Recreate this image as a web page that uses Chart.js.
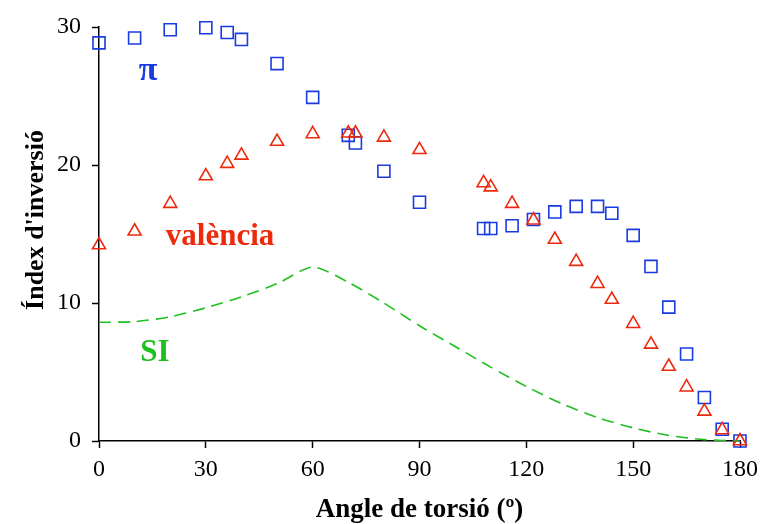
<!DOCTYPE html>
<html>
<head>
<meta charset="utf-8">
<script src="https://cdn.jsdelivr.net/npm/chart.js@4/dist/chart.umd.min.js"></script>
<style>
  html, body { margin: 0; padding: 0; background: #fff; }
  #wrap { width: 761px; height: 524px; }
</style>
</head>
<body>
<div id="wrap"><canvas id="torsionChart" width="761" height="524"></canvas></div>
<script>
// Angles (degrees) and index values
const piAngles = [0, 10, 20, 30, 36, 40, 50, 60, 70, 72, 80, 90, 108, 110, 116, 122, 128, 134, 140, 144, 150, 155, 160, 165, 170, 175, 180];
const piValues = [28.85, 29.2, 29.8, 29.95, 29.6, 29.1, 27.35, 24.9, 22.15, 21.6, 19.55, 17.3, 15.4, 15.4, 15.6, 16.05, 16.6, 17.0, 17.0, 16.5, 14.9, 12.65, 9.7, 6.3, 3.15, 0.85, 0];

const valAngles = [0, 10, 20, 30, 36, 40, 50, 60, 70, 72, 80, 90, 108, 110, 116, 122, 128, 134, 140, 144, 150, 155, 160, 165, 170, 175, 180];
const valValues = [14.2, 15.2, 17.2, 19.2, 20.1, 20.7, 21.7, 22.25, 22.3, 22.3, 22.0, 21.1, 18.7, 18.4, 17.2, 16.0, 14.6, 13.0, 11.4, 10.25, 8.5, 7.0, 5.4, 3.9, 2.15, 0.8, 0];

const siAngles = [0, 10, 20, 30, 40, 50, 60, 70, 80, 90, 100, 110, 120, 130, 140, 150, 160, 170, 180];
const siValues = [8.6, 8.65, 9.0, 9.65, 10.45, 11.4, 12.6, 11.5, 10.0, 8.35, 6.85, 5.35, 3.95, 2.7, 1.7, 0.95, 0.4, 0.1, 0];

const xTicks = [0, 30, 60, 90, 120, 150, 180];
const yTicks = [0, 10, 20, 30];

const BLUE = '#1a3be0';
const RED = '#ee2a0c';
const GREEN = '#1fbf1f';

function toPoints(xs, ys) {
    return xs.map((x, i) => ({ x: x, y: ys[i] }));
}

// labels and axis titles drawn directly on the canvas
const annotations = {
    id: 'annotations',
    afterDraw(chart) {
        const ctx = chart.ctx;
        const xs = chart.scales.x;
        const ys = chart.scales.y;
        ctx.save();
        ctx.textAlign = 'center';
        ctx.textBaseline = 'middle';
        ctx.font = 'bold 34px "Liberation Serif"';
        ctx.fillStyle = BLUE;
        ctx.fillText('π', xs.getPixelForValue(13.8), ys.getPixelForValue(26.8));
        ctx.font = 'bold 31px "Liberation Serif"';
        ctx.fillStyle = RED;
        ctx.fillText('valència', xs.getPixelForValue(34), ys.getPixelForValue(14.8));
        ctx.fillStyle = GREEN;
        ctx.fillText('SI', xs.getPixelForValue(15.7), ys.getPixelForValue(6.4));

        ctx.fillStyle = '#000';
        ctx.font = 'bold 27px "Liberation Serif"';
        ctx.fillText('Angle de torsió (º)', (xs.left + xs.right) / 2, 510);
        ctx.font = 'bold 26px "Liberation Serif"';
        ctx.translate(36, 220);
        ctx.rotate(-Math.PI / 2);
        ctx.fillText("Índex d'inversió", 0, 0);
        ctx.restore();
    }
};

const tickFont = { family: 'Liberation Serif', size: 24 };

new Chart(document.getElementById('torsionChart'), {
    type: 'scatter',
    data: {
        datasets: [
            {
                label: 'SI',
                type: 'line',
                data: toPoints(siAngles, siValues),
                borderColor: GREEN,
                borderWidth: 1.6,
                borderDash: [12, 7],
                pointRadius: 0,
                tension: 0.25,
                fill: false
            },
            {
                label: 'valència',
                data: toPoints(valAngles, valValues),
                pointStyle: 'triangle',
                pointRadius: 7.5,
                pointBorderWidth: 1.6,
                borderColor: RED,
                backgroundColor: 'rgba(0,0,0,0)',
                clip: false
            },
            {
                label: 'π',
                data: toPoints(piAngles, piValues),
                pointStyle: 'rect',
                pointRadius: 8.5,
                pointBorderWidth: 1.6,
                borderColor: BLUE,
                backgroundColor: 'rgba(0,0,0,0)',
                clip: false
            }
        ]
    },
    options: {
        responsive: false,
        animation: false,
        layout: { padding: { top: 27, right: 21, left: 0, bottom: 0 } },
        plugins: {
            legend: { display: false },
            tooltip: { enabled: false }
        },
        scales: {
            x: {
                type: 'linear',
                min: 0,
                max: 180,
                afterBuildTicks: axis => { axis.ticks = xTicks.map(v => ({ value: v })); },
                afterFit: axis => { axis.height = 83; axis.paddingRight = 0; axis.paddingLeft = 0; },
                ticks: { color: '#000', font: tickFont, padding: 7, maxRotation: 0 },
                grid: { drawOnChartArea: false, tickLength: 7, tickColor: '#000', tickWidth: 1.5 },
                border: { color: '#000', width: 1.5 }
            },
            y: {
                min: 0,
                max: 30,
                afterBuildTicks: axis => { axis.ticks = yTicks.map(v => ({ value: v })); },
                afterFit: axis => { axis.width = 99; axis.paddingTop = 0; axis.paddingBottom = 0; },
                ticks: { color: '#000', font: tickFont, padding: 11 },
                grid: { drawOnChartArea: false, tickLength: 7, tickColor: '#000', tickWidth: 1.5 },
                border: { color: '#000', width: 1.5 }
            }
        }
    },
    plugins: [annotations]
});
</script>
</body>
</html>
